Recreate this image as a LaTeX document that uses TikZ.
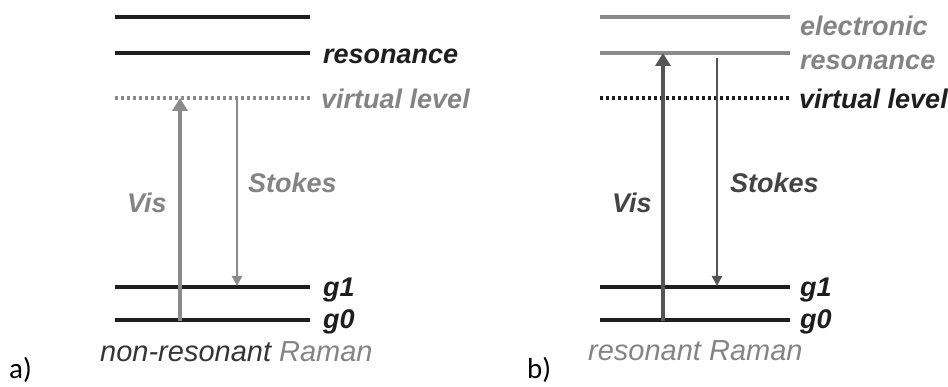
\documentclass[tikz,border=0pt]{standalone}
\usepackage{fontspec}
\setmainfont{Liberation Sans}
\newfontfamily\calib{Carlito}
\usetikzlibrary{arrows.meta}
\definecolor{lgray}{HTML}{8A8A8A}
\definecolor{tgray}{HTML}{848484}
\definecolor{dgray}{HTML}{555555}
\definecolor{ink}{HTML}{1E1E1E}
\tikzset{
  level/.style={line width=3.4pt, draw=ink},
  glevel/.style={line width=3.4pt, draw=lgray},
  virt/.style={line width=3.2pt, dash pattern=on 3pt off 3pt},
  visarrow/.style={line width=4.8pt, -{Triangle[length=13pt,width=15pt]}},
  stokesarrow/.style={line width=2.4pt, -{Triangle[length=10pt,width=10pt]}},
  lab/.style={anchor=base west, inner sep=0pt, font=\fontsize{27}{30}\selectfont\bfseries\itshape},
  captext/.style={anchor=base west, inner sep=0pt, font=\fontsize{29}{32}\selectfont\itshape},
  tagtext/.style={anchor=base west, inner sep=0pt, font=\calib\fontsize{29}{32}\selectfont}
}
\begin{document}
\begin{tikzpicture}[x=1pt,y=-1pt]
\useasboundingbox (0,0) rectangle (948,387);
% ---------- panel a ----------
\coordinate (aTL) at (115,17);  \coordinate (aTR) at (310,17);
\coordinate (aRL) at (115,53);  \coordinate (aRR) at (310,53);
\coordinate (aVL) at (115,98);  \coordinate (aVR) at (310,98);
\coordinate (a1L) at (115,287); \coordinate (a1R) at (310,287);
\coordinate (a0L) at (115,320); \coordinate (a0R) at (310,320);
\draw[level] (aTL) -- (aTR);
\draw[level] (aRL) -- (aRR);
\draw[virt, draw=lgray] (aVL) -- (aVR);
\draw[level] (a1L) -- (a1R);
\draw[level] (a0L) -- (a0R);
\coordinate (aVisS) at (180,321.5); \coordinate (aVisE) at (180,98);
\coordinate (aStS) at (237,97);     \coordinate (aStE) at (237,286);
\draw[visarrow, draw=lgray, fill=lgray] (aVisS) -- (aVisE);
\draw[stokesarrow, draw=lgray, fill=lgray] (aStS) -- (aStE);
\node[lab, text=ink] (aRes) at (323,64) {resonance};
\node[lab, text=tgray] (aVirt) at (321,109) {virtual level};
\node[lab, text=tgray] (aStokes) at (248,193) {Stokes};
\node[lab, text=tgray] (aVis) at (127,213) {Vis};
\node[lab, text=ink] (ag1) at (323,297) {g1};
\node[lab, text=ink] (ag0) at (323,329) {g0};
\node[captext] (aCap) at (100,361) {\textcolor{ink!90}{non-resonant} \textcolor{tgray}{Raman}};
\node[tagtext] (aTag) at (9,378) {a)};
% ---------- panel b ----------
\coordinate (bTL) at (600,17);  \coordinate (bTR) at (790,17);
\coordinate (bRL) at (600,53);  \coordinate (bRR) at (790,53);
\coordinate (bVL) at (600,98);  \coordinate (bVR) at (790,98);
\coordinate (b1L) at (600,287); \coordinate (b1R) at (790,287);
\coordinate (b0L) at (600,320); \coordinate (b0R) at (790,320);
\draw[glevel] (bTL) -- (bTR);
\draw[glevel] (bRL) -- (bRR);
\draw[virt, draw=ink] (bVL) -- (bVR);
\draw[level] (b1L) -- (b1R);
\draw[level] (b0L) -- (b0R);
\coordinate (bVisS) at (663,321.5); \coordinate (bVisE) at (663,53);
\coordinate (bStS) at (717,58);     \coordinate (bStE) at (717,286);
\draw[visarrow, draw=dgray, fill=dgray] (bVisS) -- (bVisE);
\draw[stokesarrow, draw=dgray, fill=dgray] (bStS) -- (bStE);
\node[lab, text=tgray] (bEl) at (800,36) {electronic};
\node[lab, text=tgray] (bRes) at (800,70) {resonance};
\node[lab, text=ink] (bVirt) at (799,109) {virtual level};
\node[lab, text=dgray!80!black] (bStokes) at (730,193) {Stokes};
\node[lab, text=dgray!80!black] (bVis) at (612,213) {Vis};
\node[lab, text=ink] (bg1) at (800,297) {g1};
\node[lab, text=ink] (bg0) at (800,329) {g0};
\node[captext, text=tgray] (bCap) at (588,360) {resonant Raman};
\node[tagtext] (bTag) at (527,378) {b)};
\end{tikzpicture}
\end{document}
